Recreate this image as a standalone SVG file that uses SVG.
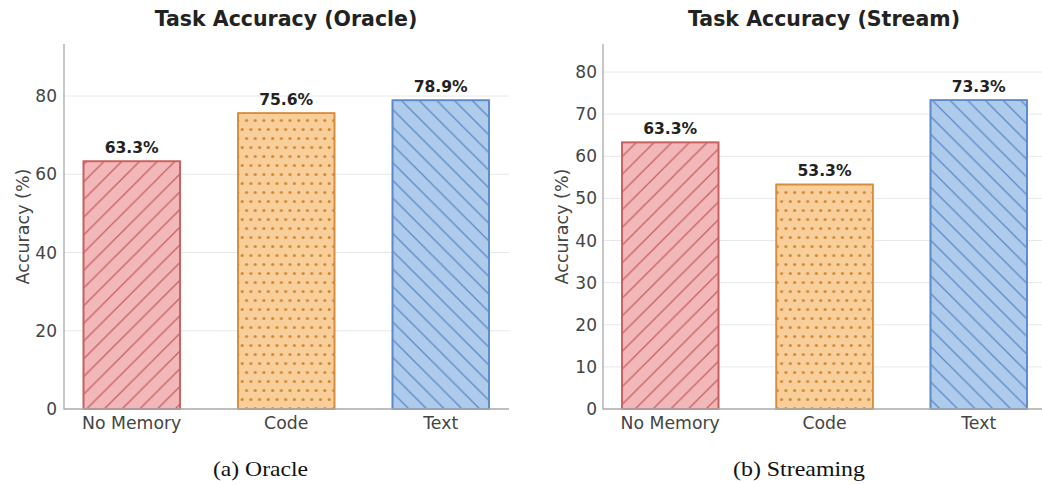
<svg xmlns="http://www.w3.org/2000/svg" width="1042" height="485" viewBox="0 0 1042 485">
<style>
.title{font-family:"DejaVu Sans",sans-serif;font-weight:bold;font-size:20.5px;fill:#222;text-anchor:middle}
.tick{font-family:"DejaVu Sans",sans-serif;font-size:17px;fill:#444;text-anchor:end}
.xl{font-family:"DejaVu Sans",sans-serif;font-size:17.3px;fill:#444;text-anchor:middle}
.yl{font-family:"DejaVu Sans",sans-serif;font-size:17.5px;fill:#444;text-anchor:middle}
.val{font-family:"DejaVu Sans",sans-serif;font-weight:bold;font-size:15.6px;fill:#222;text-anchor:middle}
.cap{font-family:"Liberation Serif",serif;font-size:22px;fill:#111;text-anchor:middle}
.grid{stroke:#e8e8ec;stroke-width:1}
.spine{stroke:#aaaaaa;stroke-width:1.3;fill:none}
.red{fill:#f2b8b9;stroke:#c8605f;stroke-width:1.6}
.org{fill:#f8cf9b;stroke:#d98c3a;stroke-width:1.6}
.blu{fill:#aecbeb;stroke:#5b8ac9;stroke-width:1.6}
</style>
<defs>
<pattern id="pRed" patternUnits="userSpaceOnUse" width="17.7" height="17.7">
<path d="M-2,19.7 L19.7,-2 M-2,2 L2,-2 M15.7,19.7 L19.7,15.7" stroke="#c8605f" stroke-width="1.3"/>
</pattern>
<pattern id="pBlu" patternUnits="userSpaceOnUse" width="17.7" height="17.7">
<path d="M-2,-2 L19.7,19.7 M15.7,-2 L19.7,2 M-2,15.7 L2,19.7" stroke="#5b8ac9" stroke-width="1.3"/>
</pattern>
<pattern id="pOrg" patternUnits="userSpaceOnUse" width="8.7" height="18" x="240" y="107">
<circle cx="2.2" cy="4.5" r="1.55" fill="#d4882f"/>
<circle cx="6.55" cy="13.5" r="1.55" fill="#d4882f"/>
</pattern>
</defs>

<g id="panel-a">
<text class="title" x="286" y="26">Task Accuracy (Oracle)</text>
<g id="grid-a">
<line class="grid" x1="64" y1="96" x2="509" y2="96"/>
<line class="grid" x1="64" y1="174.25" x2="509" y2="174.25"/>
<line class="grid" x1="64" y1="252.5" x2="509" y2="252.5"/>
<line class="grid" x1="64" y1="330.75" x2="509" y2="330.75"/>
</g>
<g id="ticks-a">
<text class="tick" x="57" y="415">0</text>
<text class="tick" x="57" y="336.8">20</text>
<text class="tick" x="57" y="258.5">40</text>
<text class="tick" x="57" y="180.3">60</text>
<text class="tick" x="57" y="102">80</text>
</g>
<text class="yl" transform="translate(29,226.5) rotate(-90)">Accuracy (%)</text>
<g id="a-nomem">
<rect class="red" x="83.5" y="161.3" width="96.5" height="247.7"/>
<rect x="83.5" y="161.3" width="96.5" height="247.7" fill="url(#pRed)" stroke="#c8605f" stroke-width="1.6"/>
<text class="val" x="131.7" y="152.5">63.3%</text>
<text class="xl" x="131.7" y="429">No Memory</text>
</g>
<g id="a-code">
<rect class="org" x="238" y="113.2" width="96.5" height="295.8"/>
<rect x="238" y="113.2" width="96.5" height="295.8" fill="url(#pOrg)" stroke="#d98c3a" stroke-width="1.6"/>
<text class="val" x="286.2" y="104.5">75.6%</text>
<text class="xl" x="286.2" y="429">Code</text>
</g>
<g id="a-text">
<rect class="blu" x="392.5" y="100.3" width="96.5" height="308.7"/>
<rect x="392.5" y="100.3" width="96.5" height="308.7" fill="url(#pBlu)" stroke="#5b8ac9" stroke-width="1.6"/>
<text class="val" x="440.7" y="91.5">78.9%</text>
<text class="xl" x="440.7" y="429">Text</text>
</g>
<path class="spine" d="M64,44 V409 H509"/>
<text class="cap" x="260.5" y="476" textLength="95" lengthAdjust="spacingAndGlyphs">(a) Oracle</text>
</g>

<g id="panel-b">
<text class="title" x="824" y="26">Task Accuracy (Stream)</text>
<g id="grid-b">
<line class="grid" x1="603" y1="72" x2="1042" y2="72"/>
<line class="grid" x1="603" y1="114.1" x2="1042" y2="114.1"/>
<line class="grid" x1="603" y1="156.25" x2="1042" y2="156.25"/>
<line class="grid" x1="603" y1="198.4" x2="1042" y2="198.4"/>
<line class="grid" x1="603" y1="240.5" x2="1042" y2="240.5"/>
<line class="grid" x1="603" y1="282.6" x2="1042" y2="282.6"/>
<line class="grid" x1="603" y1="324.75" x2="1042" y2="324.75"/>
<line class="grid" x1="603" y1="366.9" x2="1042" y2="366.9"/>
</g>
<g id="ticks-b">
<text class="tick" x="597" y="415">0</text>
<text class="tick" x="597" y="372.9">10</text>
<text class="tick" x="597" y="330.8">20</text>
<text class="tick" x="597" y="288.6">30</text>
<text class="tick" x="597" y="246.5">40</text>
<text class="tick" x="597" y="204.4">50</text>
<text class="tick" x="597" y="162.3">60</text>
<text class="tick" x="597" y="120.1">70</text>
<text class="tick" x="597" y="78">80</text>
</g>
<text class="yl" transform="translate(568,226.5) rotate(-90)">Accuracy (%)</text>
<g id="b-nomem">
<rect class="red" x="622" y="142.4" width="96.5" height="266.6"/>
<rect x="622" y="142.4" width="96.5" height="266.6" fill="url(#pRed)" stroke="#c8605f" stroke-width="1.6"/>
<text class="val" x="670.2" y="133.5">63.3%</text>
<text class="xl" x="670.2" y="429">No Memory</text>
</g>
<g id="b-code">
<rect class="org" x="776.3" y="184.5" width="96.5" height="224.5"/>
<rect x="776.3" y="184.5" width="96.5" height="224.5" fill="url(#pOrg)" stroke="#d98c3a" stroke-width="1.6"/>
<text class="val" x="824.5" y="175.5">53.3%</text>
<text class="xl" x="824.5" y="429">Code</text>
</g>
<g id="b-text">
<rect class="blu" x="930.5" y="100.2" width="96.5" height="308.8"/>
<rect x="930.5" y="100.2" width="96.5" height="308.8" fill="url(#pBlu)" stroke="#5b8ac9" stroke-width="1.6"/>
<text class="val" x="978.7" y="91.5">73.3%</text>
<text class="xl" x="978.7" y="429">Text</text>
</g>
<path class="spine" d="M603,44 V409 H1042"/>
<text class="cap" x="799" y="476" textLength="132" lengthAdjust="spacingAndGlyphs">(b) Streaming</text>
</g>
</svg>
